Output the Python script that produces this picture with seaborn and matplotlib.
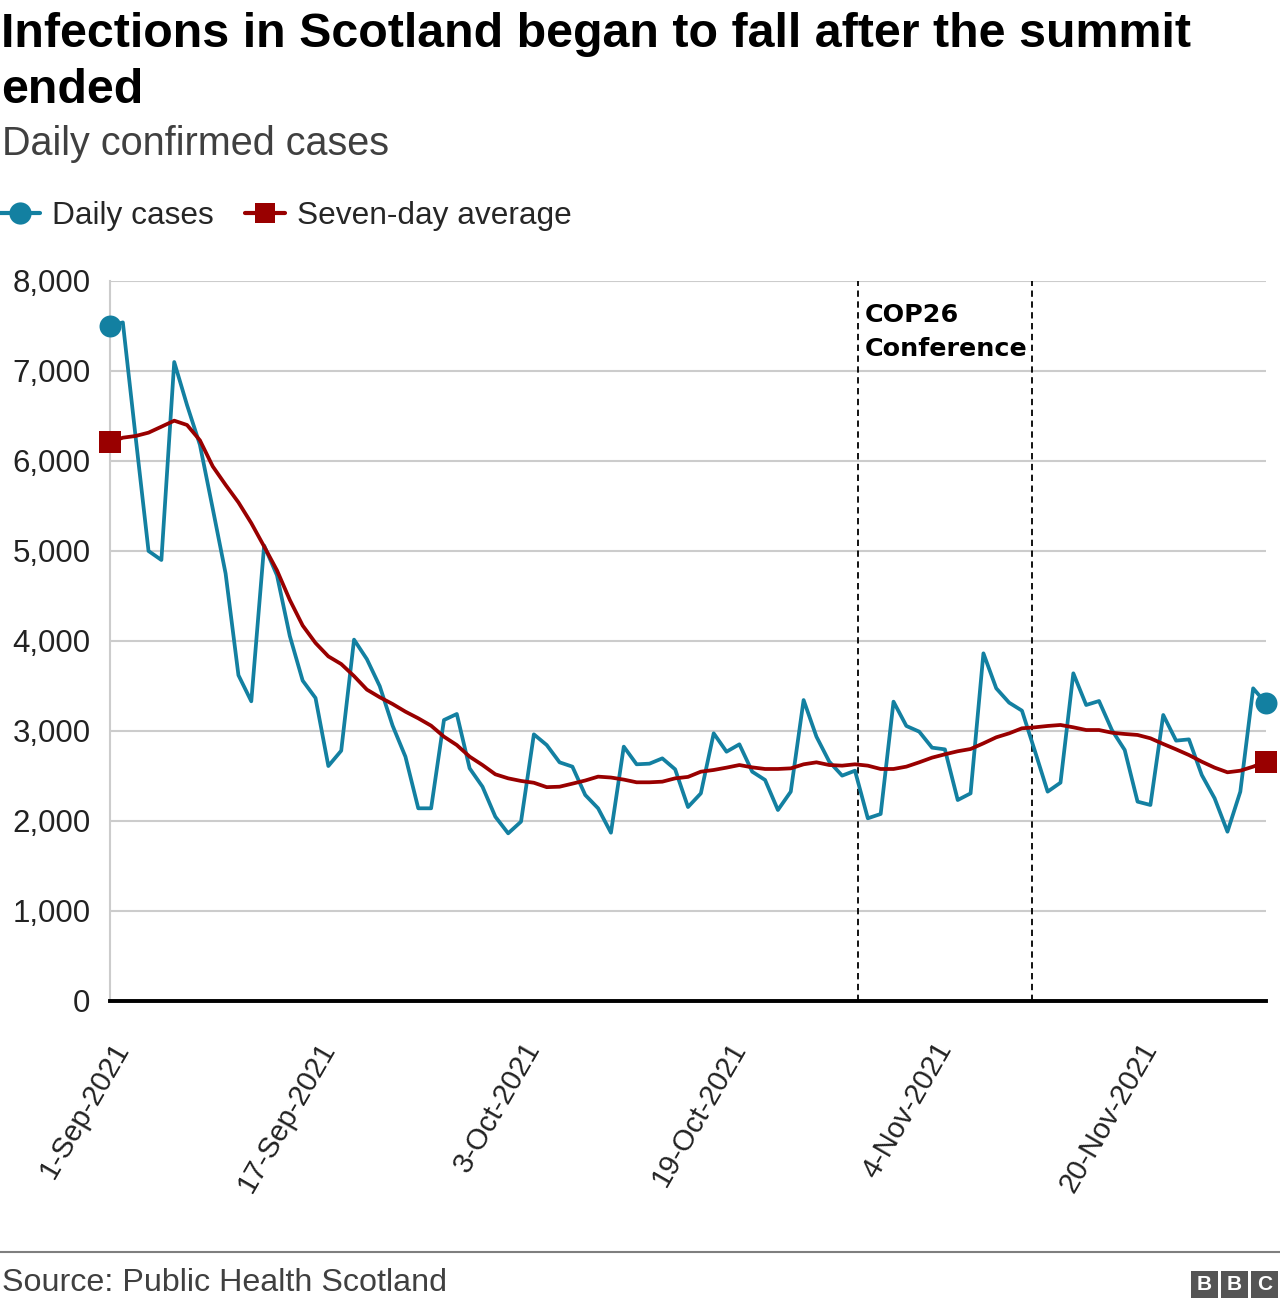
import matplotlib
matplotlib.use("Agg")
import matplotlib.pyplot as plt
import seaborn as sns
import pandas as pd
from matplotlib.lines import Line2D
from matplotlib.patches import Rectangle
from matplotlib.transforms import ScaledTranslation

# ---------------- data ----------------
start_date = "2021-09-01"
daily_cases = [7500, 7540, 6260, 5000, 4900, 7100, 6620, 6180, 5470, 4750,
               3620, 3330, 5060, 4730, 4055, 3560, 3367, 2611, 2781, 4015,
               3798, 3498, 3060, 2715, 2141, 2141, 3122, 3189, 2585, 2381,
               2048, 1863, 1993, 2963, 2844, 2652, 2604, 2289, 2141, 1870,
               2826, 2630, 2637, 2696, 2574, 2155, 2307, 2974, 2770, 2852,
               2548, 2456, 2122, 2326, 3344, 2937, 2659, 2504, 2559, 2030,
               2078, 3326, 3056, 2993, 2815, 2796, 2233, 2307, 3863, 3474,
               3315, 3226, 2781, 2326, 2426, 3641, 3289, 3333, 3011, 2789,
               2215, 2178, 3178, 2893, 2907, 2511, 2252, 1881, 2326, 3474,
               3307]
seven_day_avg = [6207, 6259, 6278, 6315, 6381, 6448, 6400, 6230, 5940, 5735,
                 5540, 5310, 5050, 4785, 4456, 4172, 3978, 3829, 3744, 3610,
                 3460, 3375, 3300, 3215, 3141, 3059, 2937, 2844, 2715, 2622,
                 2519, 2474, 2445, 2425, 2376, 2381, 2415, 2450, 2493, 2483,
                 2460, 2430, 2430, 2437, 2474, 2490, 2548, 2567, 2593, 2622,
                 2596, 2578, 2578, 2585, 2630, 2652, 2622, 2615, 2630, 2615,
                 2578, 2578, 2604, 2652, 2704, 2741, 2775, 2800, 2863, 2930,
                 2974, 3030, 3041, 3056, 3067, 3041, 3011, 3011, 2981, 2967,
                 2956, 2919, 2856, 2796, 2733, 2659, 2593, 2541, 2559, 2604,
                 2659]
tick_dates = ["2021-09-01", "2021-09-17", "2021-10-03",
              "2021-10-19", "2021-11-04", "2021-11-20"]
tick_labels = ["1-Sep-2021", "17-Sep-2021", "3-Oct-2021",
               "19-Oct-2021", "4-Nov-2021", "20-Nov-2021"]
y_ticks = [0, 1000, 2000, 3000, 4000, 5000, 6000, 7000, 8000]
cop26_start = "2021-10-29 06:00"
cop26_end = "2021-11-11 19:00"
series_names = ["Daily cases", "Seven-day average"]

title = "Infections in Scotland began to fall after the summit\nended"
subtitle = "Daily confirmed cases"
source = "Source: Public Health Scotland"

# ---------------- style ----------------
TEAL = "#1380A1"
RED = "#990000"
W, H = 1280, 1308

sns.set_theme(style="white")
plt.rcParams["font.family"] = ["Liberation Sans", "DejaVu Sans"]

dates = pd.date_range(start_date, periods=len(daily_cases), freq="D")
df = pd.DataFrame({"date": dates, "daily": daily_cases, "avg": seven_day_avg})

fig = plt.figure(figsize=(W / 100, H / 100), dpi=100)
ax = fig.add_axes([110 / W, 1 - 1001 / H, (1266 - 110) / W, 720 / H])

sns.lineplot(data=df, x="date", y="daily", ax=ax, color=TEAL, linewidth=2.7, zorder=3)
sns.lineplot(data=df, x="date", y="avg", ax=ax, color=RED, linewidth=2.7, zorder=4)

ends = df.iloc[[0, -1]]
ax.scatter(ends["date"], ends["daily"], s=250, marker="o", color=TEAL,
           clip_on=False, zorder=6, linewidths=0)
ax.scatter(ends["date"], ends["avg"], s=260, marker="s", color=RED,
           clip_on=False, zorder=6, linewidths=0)

# COP26 markers
for d in (cop26_start, cop26_end):
    ax.axvline(pd.Timestamp(d), color="black", lw=1.3, ls=(0, (3.5, 2.5)), zorder=2)
ax.annotate("COP26\nConference", xy=(pd.Timestamp(cop26_start), 1),
            xycoords=("data", "axes fraction"), xytext=(5, -16),
            textcoords="offset points", ha="left", va="top",
            fontsize=18.3, fontweight="bold", family="DejaVu Sans",
            linespacing=1.5, color="black")

# axes
ax.set_xlim(dates[0], dates[-1])
ax.set_ylim(0, 8000)
ax.set_yticks(y_ticks)
ax.set_yticklabels([f"{v:,}" for v in y_ticks])
ax.set_xticks(pd.to_datetime(tick_dates))
ax.set_xticklabels(tick_labels, rotation=60, ha="right", va="center",
                   rotation_mode="anchor")
ax.set_xlabel("")
ax.set_ylabel("")
ax.grid(axis="y", color="#cccccc", lw=1.5)
ax.grid(axis="x", visible=False)
ax.set_axisbelow(True)
for s in ("top", "right"):
    ax.spines[s].set_visible(False)
ax.spines["left"].set_color("#cccccc")
ax.spines["left"].set_linewidth(1.5)
ax.spines["bottom"].set_color("black")
ax.spines["bottom"].set_linewidth(2.8)
ax.spines["bottom"].set_zorder(5)
ax.tick_params(axis="y", length=0, pad=14, labelsize=22.5, labelcolor="#222222")
ax.tick_params(axis="x", length=0, pad=31, labelsize=21, labelcolor="#222222")
offset = ScaledTranslation(13 / 100, 0, fig.dpi_scale_trans)
for lab in ax.get_xticklabels():
    lab.set_transform(lab.get_transform() + offset)

# legend
handles = [
    Line2D([], [], color=TEAL, lw=3, marker="o", markersize=16, markeredgewidth=0),
    Line2D([], [], color=RED, lw=3, marker="s", markersize=15, markeredgewidth=0),
]
fig.legend(handles, series_names, loc="center left",
           bbox_to_anchor=(0.0, 1 - 216 / H), ncol=2, frameon=False,
           fontsize=22.8, handlelength=1.25, handletextpad=0.38,
           columnspacing=1.0, borderpad=0, borderaxespad=0)

# titles
fig.text(1 / W, 1 - 12 / H, title, fontsize=34.8, fontweight="bold",
         ha="left", va="top", color="black", linespacing=1.32)
fig.text(2 / W, 1 - 125 / H, subtitle, fontsize=28.5, color="#404040",
         ha="left", va="top")

# footer
fig.add_artist(Line2D([0, 1], [1 - 1252 / H, 1 - 1252 / H], color="#7f7f7f",
                      lw=1.5, transform=fig.transFigure))
fig.text(2 / W, 1 - 1268 / H, source, fontsize=23.2, color="#404040",
         ha="left", va="top")
for i, letter in enumerate("BBC"):
    x0 = 1191 + i * 30
    fig.add_artist(Rectangle((x0 / W, 1 - 1298 / H), 27 / W, 27 / H,
                             transform=fig.transFigure, color="#555555", lw=0))
    fig.text((x0 + 13.5) / W, 1 - 1284.5 / H, letter, fontsize=15, fontweight="bold",
             color="white", ha="center", va="center")

fig.savefig("out.png", dpi=100)
